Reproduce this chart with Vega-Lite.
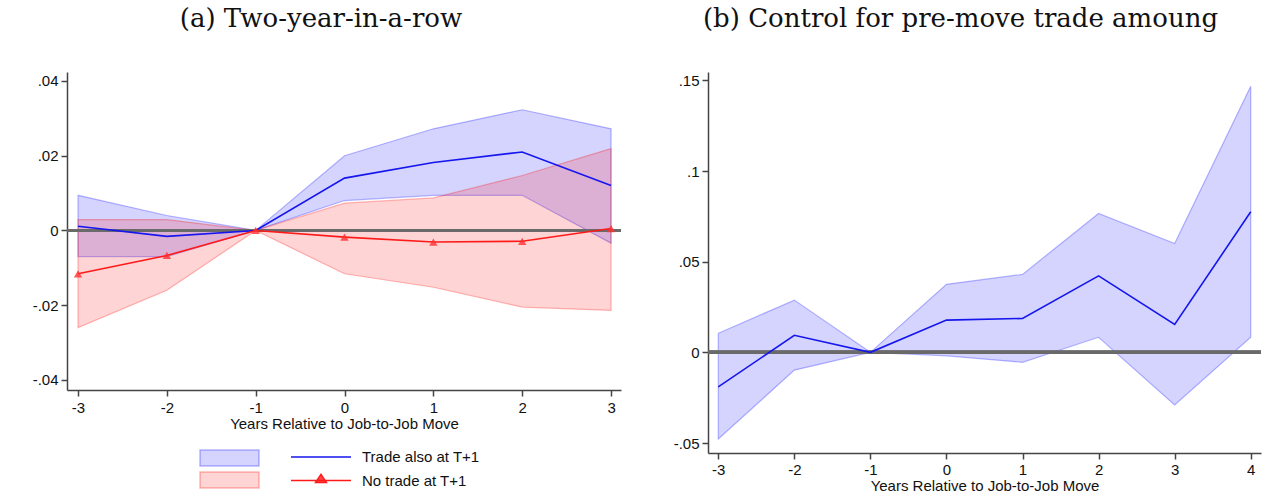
{
  "$schema": "https://vega.github.io/schema/vega-lite/v6.json",
  "padding": {"left": 32, "top": 6, "right": 0, "bottom": 0},
  "background": "white",
  "datasets": {
    "left": [
      {"series": "Trade also at T+1", "t": -3, "est": 0.0011, "lo": -0.0070, "hi": 0.0094},
      {"series": "Trade also at T+1", "t": -2, "est": -0.0016, "lo": -0.0070, "hi": 0.0040},
      {"series": "Trade also at T+1", "t": -1, "est": 0.0, "lo": 0.0, "hi": 0.0},
      {"series": "Trade also at T+1", "t": 0, "est": 0.0140, "lo": 0.0080, "hi": 0.0200},
      {"series": "Trade also at T+1", "t": 1, "est": 0.0182, "lo": 0.0094, "hi": 0.0272},
      {"series": "Trade also at T+1", "t": 2, "est": 0.0210, "lo": 0.0094, "hi": 0.0323},
      {"series": "Trade also at T+1", "t": 3, "est": 0.0120, "lo": -0.0034, "hi": 0.0272},
      {"series": "No trade at T+1", "t": -3, "est": -0.0116, "lo": -0.0260, "hi": 0.0029},
      {"series": "No trade at T+1", "t": -2, "est": -0.0067, "lo": -0.0160, "hi": 0.0029},
      {"series": "No trade at T+1", "t": -1, "est": 0.0, "lo": 0.0, "hi": 0.0},
      {"series": "No trade at T+1", "t": 0, "est": -0.0018, "lo": -0.0116, "hi": 0.0073},
      {"series": "No trade at T+1", "t": 1, "est": -0.0031, "lo": -0.0152, "hi": 0.0087},
      {"series": "No trade at T+1", "t": 2, "est": -0.0029, "lo": -0.0205, "hi": 0.0147},
      {"series": "No trade at T+1", "t": 3, "est": 0.0005, "lo": -0.0214, "hi": 0.0219}
    ],
    "right": [
      {"t": -3, "est": -0.0190, "lo": -0.0478, "hi": 0.0105},
      {"t": -2, "est": 0.0094, "lo": -0.0098, "hi": 0.0288},
      {"t": -1, "est": 0.0, "lo": 0.0, "hi": 0.0},
      {"t": 0, "est": 0.0178, "lo": -0.0019, "hi": 0.0375},
      {"t": 1, "est": 0.0187, "lo": -0.0055, "hi": 0.0430},
      {"t": 2, "est": 0.0422, "lo": 0.0083, "hi": 0.0766},
      {"t": 3, "est": 0.0154, "lo": -0.0290, "hi": 0.0600},
      {"t": 4, "est": 0.0775, "lo": 0.0083, "hi": 0.1468}
    ]
  },
  "spacing": 50,
  "resolve": {"scale": {"fill": "independent", "stroke": "independent"}},
  "hconcat": [
    {
      "width": 554,
      "height": 318,
      "title": {"text": "(a) Two-year-in-a-row", "anchor": "middle", "frame": "group", "dx": -23, "baseline": "alphabetic", "offset": 19},
      "data": {"name": "left"},
      "layer": [
        {
          "transform": [{"filter": "datum.series === 'Trade also at T+1'"}],
          "mark": {"type": "area", "opacity": 1, "strokeWidth": 1.2,
                   "stroke": {"expr": "(datum.series || datum.value) === 'Trade also at T+1' ? 'rgba(0,0,255,0.28)' : 'rgba(255,0,0,0.28)'"}},
          "encoding": {
            "x": {"field": "t", "type": "quantitative", "scale": {"domain": [-3.124, 3.112], "nice": false, "zero": false},
                  "axis": {"values": [-3, -2, -1, 0, 1, 2, 3], "title": "Years Relative to Job-to-Job Move", "labelExpr": "'' + datum.value", "labelPadding": 4, "titlePadding": 1}},
            "y": {"field": "lo", "type": "quantitative", "scale": {"domain": [-0.0427, 0.0424], "nice": false, "zero": false},
                  "axis": {"values": [-0.04, -0.02, 0, 0.02, 0.04], "title": null,
                           "labelExpr": "datum.value == 0 ? '0' : (datum.value < 0 ? '-' : '') + substring(format(abs(datum.value), '.2~f'), 1)"}},
            "y2": {"field": "hi"},
            "fill": {"field": "series", "type": "nominal",
                     "scale": {"domain": ["Trade also at T+1", "No trade at T+1"], "range": ["rgba(0,0,255,0.17)", "rgba(255,0,0,0.17)"]},
                     "legend": {"title": null, "orient": "none", "legendX": 132, "legendY": 377, "direction": "vertical",
                                "symbolType": "M-1,-0.2712H1V0.2712H-1Z", "symbolSize": 3481, "clipHeight": 18, "rowPadding": 4,
                                "labelExpr": "''"}}
          }
        },
        {
          "transform": [{"filter": "datum.series === 'No trade at T+1'"}],
          "mark": {"type": "area", "opacity": 1, "strokeWidth": 1.2,
                   "stroke": {"expr": "(datum.series || datum.value) === 'Trade also at T+1' ? 'rgba(0,0,255,0.28)' : 'rgba(255,0,0,0.28)'"}},
          "encoding": {
            "x": {"field": "t", "type": "quantitative"},
            "y": {"field": "lo", "type": "quantitative"},
            "y2": {"field": "hi"},
            "fill": {"field": "series", "type": "nominal"}
          }
        },
        {
          "mark": {"type": "rule", "color": "#6a6a6a", "strokeWidth": 3, "opacity": 0.85},
          "encoding": {"y": {"datum": 0, "type": "quantitative"}}
        },
        {
          "mark": {"type": "line", "strokeWidth": 1.6},
          "encoding": {
            "x": {"field": "t", "type": "quantitative"},
            "y": {"field": "est", "type": "quantitative"},
            "stroke": {"field": "series", "type": "nominal", "sort": "descending",
                       "scale": {"range": ["#1515ee", "#ff1a1a"]},
                       "legend": {"title": null, "orient": "none", "legendX": 223, "legendY": 376, "direction": "vertical",
                                  "symbolType": "M-1,0H1", "symbolSize": 3600, "clipHeight": 18, "rowPadding": 5.6,
                                  "labelOffset": 10, "labelFont": "Liberation Sans", "labelFontSize": 15, "labelColor": "#111",
                                  "encode": {"symbols": {"update": {
                                    "shape": {"signal": "datum.value === 'No trade at T+1' ? 'M-1,0H1M-0.18,0.06L0,-0.21L0.18,0.06Z' : 'M-1,0H1'"},
                                    "fill": {"signal": "datum.value === 'No trade at T+1' ? 'rgba(255,40,40,0.85)' : 'transparent'"},
                                    "stroke": {"signal": "datum.value === 'No trade at T+1' ? '#ff2a2a' : '#1515ee'"},
                                    "strokeWidth": {"value": 1.5},
                                    "opacity": {"value": 1}}}}}}
          }
        },
        {
          "transform": [{"filter": "datum.series === 'No trade at T+1'"}],
          "mark": {"type": "point", "shape": "triangle-up", "filled": true, "color": "#ff3030", "opacity": 0.8, "size": 70},
          "encoding": {
            "x": {"field": "t", "type": "quantitative"},
            "y": {"field": "est", "type": "quantitative"}
          }
        }
      ]
    },
    {
      "width": 553,
      "height": 381,
      "title": {"text": "(b) Control for pre-move trade amoung", "anchor": "middle", "frame": "group", "dx": -24, "baseline": "alphabetic", "offset": 19},
      "data": {"name": "right"},
      "layer": [
        {
          "mark": {"type": "area", "fill": "rgba(0,0,255,0.17)", "stroke": "rgba(0,0,255,0.28)", "strokeWidth": 1.2, "opacity": 1},
          "encoding": {
            "x": {"field": "t", "type": "quantitative", "scale": {"domain": [-3.135, 4.135], "nice": false, "zero": false},
                  "axis": {"values": [-3, -2, -1, 0, 1, 2, 3, 4], "title": "Years Relative to Job-to-Job Move", "labelExpr": "'' + datum.value", "labelPadding": 3, "titlePadding": 1}},
            "y": {"field": "lo", "type": "quantitative", "scale": {"domain": [-0.0555, 0.1546], "nice": false, "zero": false},
                  "axis": {"values": [-0.05, 0, 0.05, 0.1, 0.15], "title": null,
                           "labelExpr": "datum.value == 0 ? '0' : (datum.value < 0 ? '-' : '') + substring(format(abs(datum.value), '.2~f'), 1)"}},
            "y2": {"field": "hi"}
          }
        },
        {
          "mark": {"type": "rule", "color": "#6a6a6a", "strokeWidth": 3, "opacity": 0.85},
          "encoding": {"y": {"datum": 0, "type": "quantitative"}}
        },
        {
          "mark": {"type": "line", "color": "#1515ee", "strokeWidth": 1.6},
          "encoding": {
            "x": {"field": "t", "type": "quantitative"},
            "y": {"field": "est", "type": "quantitative"}
          }
        }
      ]
    }
  ],
  "config": {
    "view": {"stroke": null},
    "title": {"font": "DejaVu Serif", "fontSize": 26, "fontWeight": "normal", "color": "#111"},
    "axis": {
      "grid": false,
      "domainColor": "#444",
      "domainWidth": 1.5,
      "tickColor": "#444",
      "tickWidth": 1.5,
      "tickSize": 6,
      "labelFont": "Liberation Sans",
      "labelFontSize": 15,
      "labelColor": "#111",
      "titleFont": "Liberation Sans",
      "titleFontSize": 15,
      "titleFontWeight": "normal",
      "titleColor": "#111"
    },
    "axisY": {"labelPadding": 3, "labelAngle": 0},
    "legend": {"labelFont": "Liberation Sans", "labelFontSize": 15, "labelColor": "#111"}
  }
}
